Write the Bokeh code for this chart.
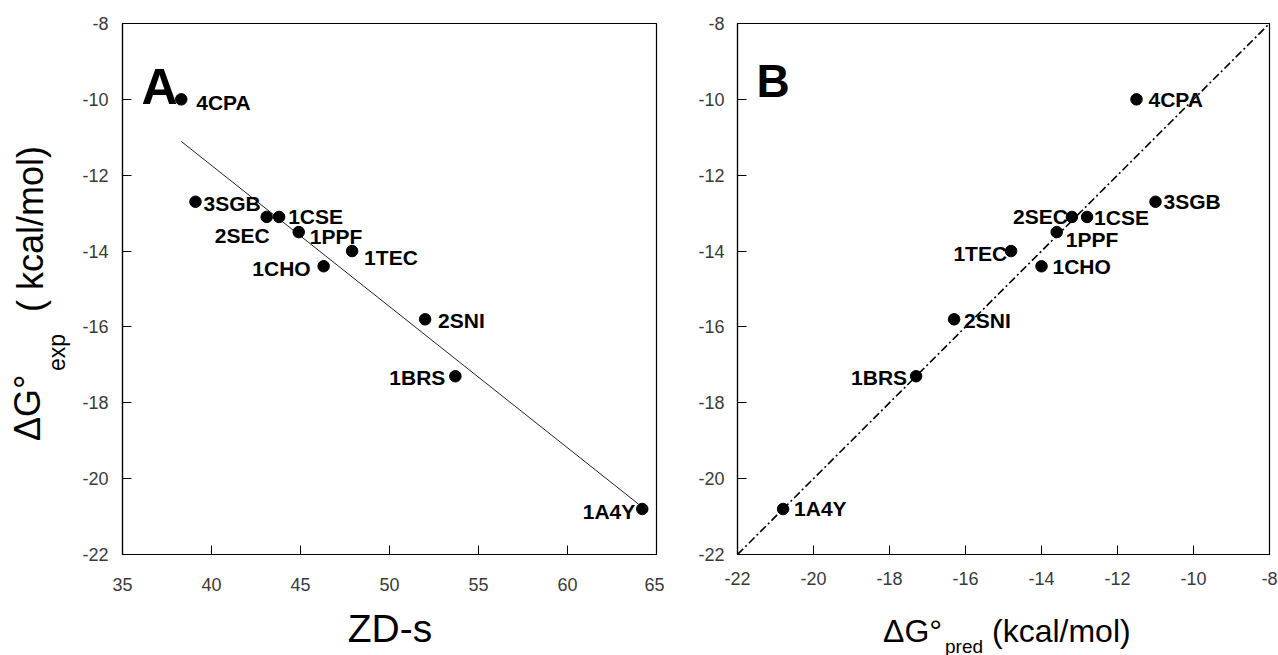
import numpy as np
from bokeh.plotting import figure
from bokeh.models import Range1d, Label, ColumnDataSource, FixedTicker, Div
from bokeh.layouts import row, column
from bokeh.embed import file_html
from bokeh.resources import INLINE
from bokeh.core.properties import value

# ---------------- data ----------------
names = ["4CPA", "3SGB", "2SEC", "1CSE", "1PPF", "1TEC", "1CHO", "2SNI", "1BRS", "1A4Y"]
zd_s = [38.3, 39.1, 43.1, 43.8, 44.9, 47.9, 46.3, 52.0, 53.7, 64.2]
dg_exp = [-10.0, -12.7, -13.1, -13.1, -13.5, -14.0, -14.4, -15.8, -17.3, -20.8]
dg_pred = [-11.5, -11.0, -13.2, -12.8, -13.6, -14.8, -14.0, -16.3, -17.3, -20.8]
x_ticks_a = [35, 40, 45, 50, 55, 60, 65]
dg_ticks = [-22, -20, -18, -16, -14, -12, -10, -8]

# label placement (pixels; y offset positive = down) and alignment
off_a = [(15, 3, "left"), (8, 2, "left"), (3, 19, "right"), (9, 0, "left"), (11, 4, "left"),
         (12, 6, "left"), (-13, 2, "right"), (13, 1, "left"), (-10, 1, "right"), (-7, 3, "right")]
off_b = [(12, 0, "left"), (8, 0, "left"), (-4, 0, "right"), (7, 1, "left"), (9, 7, "left"),
         (-4, 2, "right"), (11, 0, "left"), (10, 1, "left"), (-9, 1, "right"), (11, 0, "left")]

FONT = "Liberation Sans"
TOP_H = 600
BOT_H = 55
YT_W = 72

# panel A geometry (width, left border, top border, frame w, frame h)
A_W, A_L, A_T, A_FW, A_FH = 592, 50, 20, 534, 534
# panel B geometry
B_W, B_L, B_T, B_FW, B_FH = 614, 73, 23, 532, 538


def make_fig(width, left, top, fw, fh, xr, yr):
    p = figure(width=width, height=TOP_H, x_range=Range1d(*xr), y_range=Range1d(*yr),
               output_backend="svg", toolbar_location=None,
               min_border_left=left, min_border_top=top,
               min_border_right=width - left - fw, min_border_bottom=TOP_H - top - fh)
    p.grid.visible = False
    p.outline_line_color = "black"
    p.outline_line_width = 1.2
    p.background_fill_color = "white"
    p.border_fill_color = "white"
    for ax in (p.xaxis[0], p.yaxis[0]):
        ax.major_tick_in = 9
        ax.major_tick_out = 0
        ax.minor_tick_line_color = None
        ax.axis_line_color = "black"
        ax.axis_line_width = 1.2
        ax.major_tick_line_color = "black"
        ax.major_label_text_font = FONT
        ax.major_label_text_font_size = "18px"
        ax.major_label_text_color = "#3a3a3a"
        ax.axis_label = None
    return p


def add_points(p, xs, ys, offs):
    for align in ("left", "right"):
        idx = [i for i, o in enumerate(offs) if o[2] == align]
        src = ColumnDataSource(dict(
            x=[xs[i] for i in idx], y=[ys[i] for i in idx], name=[names[i] for i in idx],
            xo=[offs[i][0] for i in idx], yo=[offs[i][1] for i in idx]))
        p.text(x="x", y="y", text="name", x_offset="xo", y_offset="yo", source=src,
               text_align=align, text_baseline="middle", text_font=value(FONT),
               text_font_style="bold", text_font_size="21px", text_color="black")
    p.scatter(xs, ys, size=11.5, color="black")


# ---------------- panel A ----------------
pa = make_fig(A_W, A_L, A_T, A_FW, A_FH, (x_ticks_a[0], x_ticks_a[-1]), (dg_ticks[0], dg_ticks[-1]))
pa.xaxis.ticker = FixedTicker(ticks=x_ticks_a)
pa.yaxis.ticker = FixedTicker(ticks=dg_ticks)
pa.xaxis.major_label_overrides = {t: str(t) for t in x_ticks_a}
pa.yaxis.major_label_overrides = {t: str(t) for t in dg_ticks}
pa.xaxis.major_label_standoff = 23
pa.yaxis.major_label_standoff = 14

slope, icpt = np.polyfit(zd_s, dg_exp, 1)
fx = np.array([min(zd_s), max(zd_s)])
pa.line(fx, slope * fx + icpt, line_color="#222222", line_width=1)
add_points(pa, zd_s, dg_exp, off_a)

pa.add_layout(Label(x=x_ticks_a[0], y=dg_ticks[-1], x_offset=19, y_offset=-63, text="A",
                    text_font=FONT, text_font_size="50px", text_font_style="bold",
                    text_align="left", text_baseline="alphabetic", text_color="black"))

# ---------------- panel B ----------------
pb = make_fig(B_W, B_L, B_T, B_FW, B_FH, (dg_ticks[0], dg_ticks[-1]), (dg_ticks[0], dg_ticks[-1]))
pb.xaxis.ticker = FixedTicker(ticks=dg_ticks)
pb.yaxis.ticker = FixedTicker(ticks=dg_ticks)
pb.xaxis.major_label_overrides = {t: str(t) for t in dg_ticks}
pb.yaxis.major_label_overrides = {t: str(t) for t in dg_ticks}
pb.xaxis.major_label_standoff = 17
pb.yaxis.major_label_standoff = 13

diag = [dg_ticks[0], dg_ticks[-1]]
pb.line(diag, diag, line_color="black", line_width=1.6, line_dash="8 3 2 3")
add_points(pb, dg_pred, dg_exp, off_b)

pb.add_layout(Label(x=dg_ticks[0], y=dg_ticks[-1], x_offset=19, y_offset=-57, text="B",
                    text_font=FONT, text_font_size="46px", text_font_style="bold",
                    text_align="left", text_baseline="alphabetic", text_color="black"))

# ---------------- axis titles (HTML text) ----------------
SPAN = ("position:absolute;white-space:nowrap;line-height:1;color:black;"
        "font-family:'Liberation Sans',Arial,sans-serif;")


def rot(x_c, y_start, size, text):
    left = x_c - size / 2
    return (f"<span style=\"{SPAN}font-size:{size}px;left:{left}px;top:{y_start}px;"
            f"transform-origin:0 0;transform:rotate(-90deg);\">{text}</span>")


def hor(x_left, y_c, size, text, center=False):
    tr = "translate(-50%,-50%)" if center else "translate(0,-50%)"
    return (f"<span style=\"{SPAN}font-size:{size}px;left:{x_left}px;top:{y_c}px;"
            f"transform:{tr};\">{text}</span>")


def box(w, h, inner):
    return f"<div style=\"position:relative;width:{w}px;height:{h}px;\">{inner}</div>"


ytitle = Div(text=box(YT_W, TOP_H,
                      rot(28, 441, 36, "&Delta;G&deg;") +
                      rot(57, 371, 23, "exp") +
                      rot(31, 312, 36, "( kcal/mol)")),
             width=YT_W, height=TOP_H, margin=0)

xtitle_a = Div(text=box(YT_W + A_W, BOT_H, hor(390, 28, 39, "ZD-s", center=True)),
               width=YT_W + A_W, height=BOT_H, margin=0)

bx0 = YT_W + A_W
xtitle_b = Div(text=box(B_W, BOT_H,
                        hor(883 - bx0, 31, 32, "&Delta;G&deg;") +
                        hor(945 - bx0, 46, 19, "pred") +
                        hor(992 - bx0, 31, 32, "(kcal/mol)")),
               width=B_W, height=BOT_H, margin=0)

layout = column(row(ytitle, pa, pb, spacing=0), row(xtitle_a, xtitle_b, spacing=0), spacing=0)
open("out.html", "w").write(file_html(layout, INLINE))
